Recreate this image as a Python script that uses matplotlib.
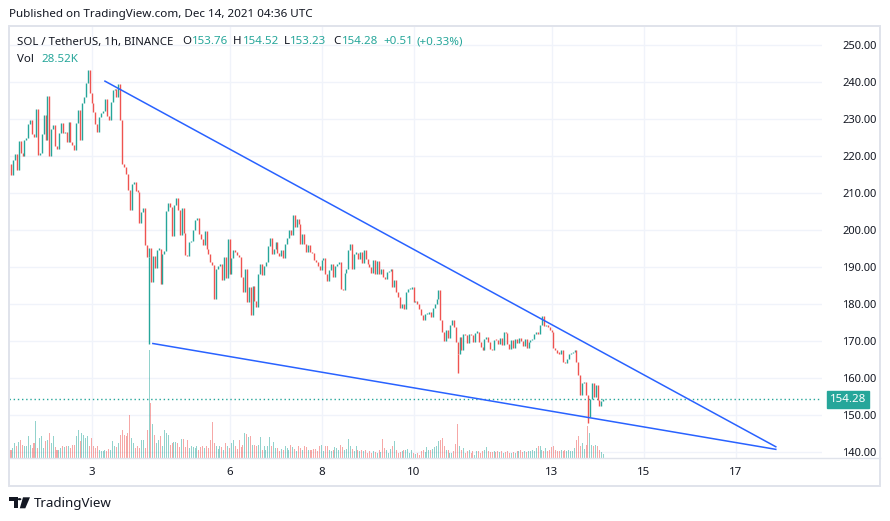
import matplotlib.pyplot as plt
from matplotlib.patches import Rectangle, Polygon, Circle
from matplotlib.lines import Line2D
from matplotlib.transforms import blended_transform_factory

plt.rcParams['font.family'] = ['Noto Sans', 'DejaVu Sans']

W, H = 890, 521
UP, DOWN = '#26a69a', '#ef5350'
TEXT = '#131722'
GRID = '#f0f3fa'
BORDER = '#e0e3eb'
TREND = '#2962ff'

# SOL/USDT 1h, Dec 1 06:00 -> Dec 14 03:00 UTC (open of a candle = close of the one before)
first_open = 217.8
closes = [
    214.9, 218.9, 220.7, 216.2, 224.1, 220.9, 220.0, 224.3, 224.8, 228.8,
    229.9, 226.1, 225.2, 232.7, 220.3, 221.0, 226.0, 231.1, 224.5, 236.2,
    220.0, 227.5, 228.5, 222.7, 222.0, 226.3, 229.0, 226.3, 226.5, 223.8,
    229.3, 223.9, 223.0, 221.8, 229.0, 232.4, 224.5, 234.4, 236.0, 239.8,
    243.2, 237.0, 234.4, 232.0, 228.8, 226.6, 230.6, 231.7, 232.3, 235.4,
    231.0, 229.9, 234.7, 237.8, 238.3, 236.0, 239.5, 229.9, 218.0, 217.0,
    215.3, 211.0, 205.5, 212.5, 213.0, 210.5, 210.4, 202.0, 205.0, 206.0,
    196.1, 192.8, 195.3, 186.0, 193.0, 189.7, 194.8, 195.0, 185.6, 193.5,
    194.5, 205.2, 207.4, 206.3, 198.4, 206.7, 208.7, 205.4, 198.6, 206.0,
    199.3, 193.2, 193.0, 196.8, 197.2, 200.2, 202.7, 203.2, 199.1, 197.7,
    196.0, 199.8, 195.0, 193.7, 191.4, 190.5, 181.4, 189.4, 190.3, 191.0,
    186.5, 192.8, 187.2, 197.7, 188.3, 192.6, 194.8, 194.1, 193.2, 192.8,
    187.4, 183.3,
    189.5, 180.6, 184.7, 177.0, 184.9, 181.0, 179.3, 188.3, 191.0, 187.8,
    190.3, 191.4, 195.7, 197.8, 193.5, 195.0, 196.8, 193.9, 193.0, 194.8,
    192.6, 196.4, 197.8, 200.0, 198.6, 204.0, 200.9, 203.1, 201.8, 196.4,
    199.0, 196.4, 194.1, 196.0, 194.1, 193.9, 191.9, 191.4, 190.4, 189.2,
    191.9, 192.5, 188.3, 186.3, 189.2, 191.0, 187.4, 190.3, 191.0, 191.4,
    184.0, 183.8, 188.5, 189.6, 194.6, 196.4, 189.6, 193.7, 193.9, 192.3,
    194.1,
    191.2, 194.6, 192.3, 191.0, 190.1, 188.5, 191.9, 188.3, 191.7, 188.3,
    189.6, 187.4, 186.7, 188.7, 189.0, 189.4, 184.7, 186.5, 183.3, 181.9,
    179.1, 180.2, 178.6, 183.3, 184.0, 184.2, 184.7, 180.6, 180.9, 180.0,
    178.6, 177.0, 175.7, 177.3, 177.5, 178.0, 176.6, 179.1, 180.2, 181.5,
    183.8, 175.7, 172.5, 170.1, 173.0, 171.0, 174.3, 175.7, 173.9, 169.8,
    166.5, 171.2, 167.7, 171.9, 171.6, 169.5, 172.1, 171.6, 169.8, 172.3,
    172.5,
    169.8, 168.5, 167.7, 170.7, 171.2, 169.8, 168.0, 167.7, 170.4, 170.3,
    169.2, 171.0, 168.9, 172.5, 172.2, 169.4, 168.0, 170.3, 168.3, 170.7,
    169.6, 170.9, 170.1, 168.6, 170.5, 168.3, 169.8, 170.3, 170.7, 172.1,
    172.3, 172.1, 174.3, 176.8, 174.0, 174.5, 173.9, 173.0, 172.5, 168.3,
    167.6, 166.9, 166.7, 167.7, 164.4, 164.0, 165.3, 166.5, 166.8, 167.1,
    167.7, 164.4, 160.8, 155.4, 158.6, 159.0, 155.4, 149.5, 154.5, 158.6,
    154.9, 158.1, 154.1, 152.4, 153.76, 154.28,
]

# volume in thousands of SOL
volumes = [
    51, 63, 95, 76, 101, 114, 82, 76, 76, 139, 82, 63, 95, 234, 63, 127, 139, 63, 108, 114,
    158, 95, 139, 70, 51, 51, 63, 76, 70, 76, 76, 63, 82, 82, 139, 177, 108, 158, 146, 127,
    139, 76, 127, 76, 63, 76, 51, 44, 44, 51, 44, 57, 51, 108, 76, 70, 95, 146, 177, 146,
    139, 158, 272, 127, 95, 63, 76, 63, 114, 114, 63, 177, 684, 348, 215, 146, 95, 114, 139, 76,
    177, 158, 146, 82, 95, 101, 101, 95, 70, 120, 120, 70, 114, 63, 76, 70, 63, 76, 51, 70,
    76, 63, 76, 63, 114, 228, 95, 76, 57, 76, 70, 51, 95, 76, 63, 95, 114, 76, 57, 114,
    70, 82,
    158, 152, 133, 139, 82, 82, 76, 82, 133, 51, 76, 51, 76, 133, 76, 101, 63, 63, 44, 57,
    51, 76, 63, 51, 82, 70, 57, 44, 76, 63, 51, 76, 70, 51, 51, 51, 57, 57, 44, 76,
    82, 44, 76, 76, 51, 44, 51, 70, 63, 51, 82, 70, 51, 57, 120, 76, 57, 44, 76, 51,
    44,
    51, 44, 51, 32, 44, 32, 44, 38, 32, 51, 38, 120, 63, 51, 32, 57, 76, 108, 51, 32,
    38, 44, 51, 51, 57, 32, 51, 32, 25, 32, 19, 44, 51, 38, 70, 51, 51, 57, 70, 76,
    108, 114, 127, 76, 51, 51, 32, 32, 44, 89, 215, 76, 51, 63, 32, 44, 51, 32, 44, 19,
    44,
    44, 32, 44, 51, 70, 44, 38, 38, 44, 38, 44, 38, 44, 32, 38, 44, 32, 32, 38, 32,
    44, 44, 51, 38, 44, 38, 44, 44, 51, 44, 63, 76, 76, 51, 44, 63, 44, 51, 70, 76,
    51, 44, 44, 51, 44, 51, 44, 51, 44, 44, 63, 114, 139, 76, 95, 57, 82, 203, 158, 82,
    76, 82, 76, 51, 38, 28.52,
]

# candles with a long lower wick
wick_idx = [72, 233, 301]
wick_low = [169.2, 161.4, 147.9]

day_pos = [42, 114, 162, 210, 282, 330, 378]
day_labels = ['3', '6', '8', '10', '13', '15', '17']
price_ticks = [140, 150, 160, 170, 180, 190, 200, 210, 220, 230, 240, 250]

# falling wedge drawn on the chart
upper_x, upper_y = [49, 399], [240.3, 141.5]
lower_x, lower_y = [74, 399], [169.4, 140.8]
last_price = 154.28

opens = [first_open] + closes[:-1]
idx = list(range(len(closes)))
up = [c >= o for o, c in zip(opens, closes)]
colors = [UP if u else DOWN for u in up]
lows = [min(o, c) for o, c in zip(opens, closes)]
highs = [max(max(o, c), min(o, c) + 0.35) for o, c in zip(opens, closes)]

fig = plt.figure(figsize=(W / 100, H / 100), dpi=100)
fig.patch.set_facecolor('white')
ax = fig.add_axes([9.3 / W, 1 - 458.3 / H, (822 - 9.3) / W, (458.3 - 26) / H])
axv = ax.twinx()

ax.set_xlim(-0.9, 423.1)
ax.set_ylim(138.38, 255.2)
axv.set_ylim(0, 2740)

# grid
for p in price_ticks:
    ax.axhline(p, color=GRID, lw=1, zorder=0)
for d in day_pos:
    ax.axvline(d, color=GRID, lw=1, zorder=0)

# volume
axv.bar(idx, volumes, width=0.55, color=colors, alpha=0.5, linewidth=0)
axv.set_yticks([])
for s in axv.spines.values():
    s.set_visible(False)

# candles
ax.vlines(idx, lows, highs, colors=colors, lw=1.0, zorder=3)
for i, lo in zip(wick_idx, wick_low):
    ax.vlines(i, lo, lows[i], colors=colors[i], lw=1.0, zorder=3)

# wedge
ax.plot(upper_x, upper_y, color=TREND, lw=1.1, zorder=4)
ax.plot(lower_x, lower_y, color=TREND, lw=1.1, zorder=4)

# last price
ax.axhline(last_price, color=UP, lw=1, ls=(0, (1, 2)), zorder=2)
tr = blended_transform_factory(ax.transAxes, ax.transData)
ax.text(1.0095, last_price, '154.28', transform=tr, ha='left', va='center',
        color='white', fontsize=8.3, fontweight='bold', clip_on=False,
        bbox=dict(boxstyle='square,pad=0.25', fc=UP, ec=UP))

for s in ax.spines.values():
    s.set_visible(False)
ax.yaxis.tick_right()
ax.set_yticks(price_ticks, [f'{p:.2f}' for p in price_ticks])
ax.set_xticks(day_pos, day_labels)
ax.tick_params(axis='y', length=0, pad=14.5, labelsize=8.0, labelcolor=TEXT)
ax.tick_params(axis='x', length=0, pad=6, labelsize=8.3, labelcolor=TEXT)
ax.set_zorder(axv.get_zorder() - 1)


def px(x, y):
    return x / W, 1 - y / H


# frame
fig.add_artist(Rectangle(px(9.3, 486), (880 - 9.3) / W, (486 - 26) / H, fill=False,
                         ec=BORDER, lw=1.4, transform=fig.transFigure))
fig.add_artist(Line2D([9.3 / W, 880 / W], [1 - 458.3 / H] * 2, color=BORDER, lw=1,
                      transform=fig.transFigure))

# header
fig.text(*px(9, 15), 'Published on TradingView.com, Dec 14, 2021 04:36 UTC',
         fontsize=8.4, color=TEXT, va='center')
fig.text(*px(17.3, 42), 'SOL / TetherUS, 1h, BINANCE', fontsize=8.2, color=TEXT, va='center')
legend = [('O', 182.7, '153.76', 191.7), ('H', 233.3, '154.52', 242.7),
          ('L', 284.0, '153.23', 290.0), ('C', 333.3, '154.28', 341.7)]
for k, kx, v, vx in legend:
    fig.text(*px(kx, 42), k, fontsize=8.3, color=TEXT, va='center')
    fig.text(*px(vx, 42), v, fontsize=8.3, color=UP, va='center')
fig.text(*px(383.3, 42), '+0.51', fontsize=8.3, color=UP, va='center')
fig.text(*px(416.7, 42), '(+0.33%)', fontsize=8.3, color=UP, va='center')
fig.text(*px(17.3, 60), 'Vol', fontsize=8.3, color=TEXT, va='center')
fig.text(*px(41.7, 60), '28.52K', fontsize=8.3, color=UP, va='center')

# logo
fig.add_artist(Polygon([px(9.3, 497.3), px(17.5, 497.3), px(17.5, 508.3), px(13.5, 508.3),
                        px(13.5, 500.8), px(9.3, 500.8)], closed=True, fc=TEXT, ec='none',
                       transform=fig.transFigure))
fig.add_artist(Circle(px(19.5, 499.2), 1.9 / W, fc=TEXT, ec='none', transform=fig.transFigure))
fig.add_artist(Polygon([px(23.0, 497.3), px(30.0, 497.3), px(25.3, 508.3), px(19.8, 508.3)],
                       closed=True, fc=TEXT, ec='none', transform=fig.transFigure))
fig.text(*px(34, 503), 'TradingView', fontsize=9.6, color=TEXT, va='center')

fig.savefig('out.png', dpi=100, facecolor='white')
